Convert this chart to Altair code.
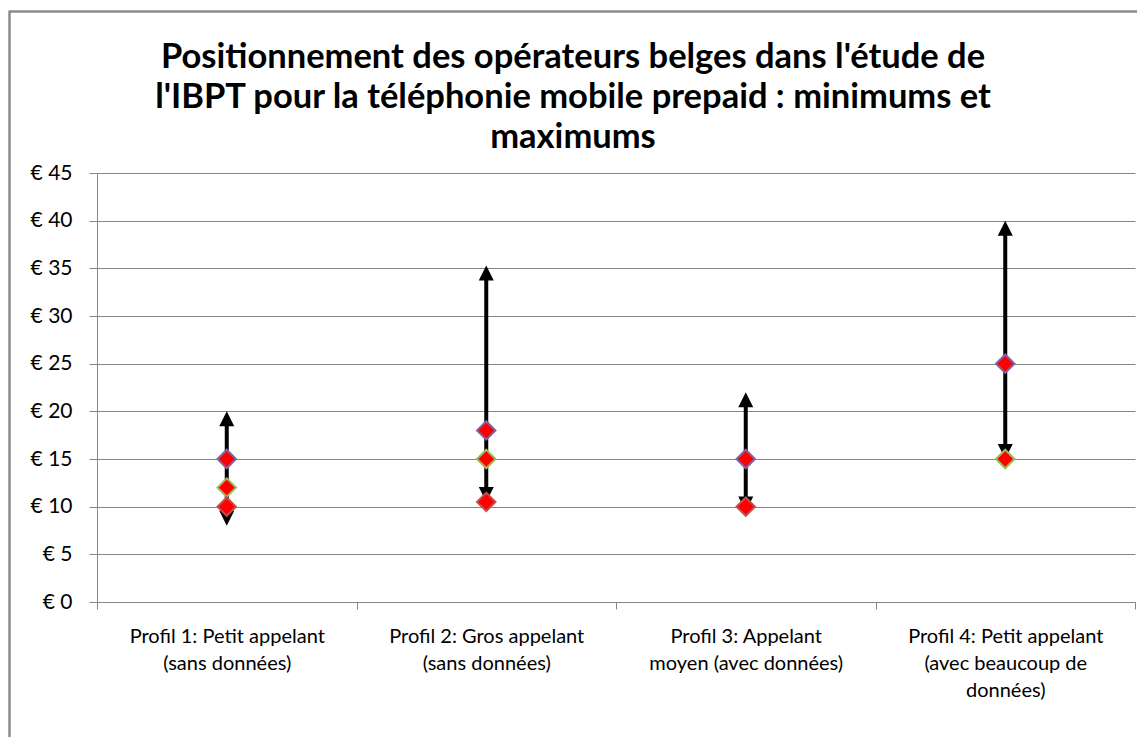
import altair as alt
import pandas as pd

# ---- data ----
categories = [
    "Profil 1: Petit appelant|(sans données)",
    "Profil 2: Gros appelant|(sans données)",
    "Profil 3: Appelant|moyen (avec données)",
    "Profil 4: Petit appelant|(avec beaucoup de|données)",
]
arrow_low = [8, 10.5, 9.5, 15]
arrow_high = [20, 35.3, 22, 40]

series_names = ["Série 1", "Série 2", "Série 3"]
series_1 = [15, 18, 15, 25]        # purple border
series_2 = [12, 15, None, 15]      # green border
series_3 = [10, 10.5, 10, None]    # red border
series_strokes = ["#8064A2", "#9BBB59", "#C0504D"]

y_ticks = [0, 5, 10, 15, 20, 25, 30, 35, 40, 45]

title_lines = [
    "Positionnement des opérateurs belges dans l'étude de",
    "l'IBPT pour la téléphonie mobile prepaid : minimums et",
    "maximums",
]

# ---- tables ----
arrows = pd.DataFrame({"cat": categories, "low": arrow_low, "high": arrow_high})
rows = []
for name, vals in zip(series_names, [series_1, series_2, series_3]):
    for c, v in zip(categories, vals):
        if v is not None:
            rows.append({"cat": c, "serie": name, "value": v})
points = pd.DataFrame(rows)

GRAY = "#868686"
FONT = "Lato"

x_enc = alt.X(
    "cat:N",
    sort=categories,
    scale=alt.Scale(type="band", paddingInner=0, paddingOuter=0),
    axis=alt.Axis(
        title=None,
        labelAngle=0,
        labelExpr="split(datum.label, '|')",
        tickBand="extent",
        grid=False,
        labelFont=FONT,
        labelFontSize=20,
        labelLineHeight=27,
        labelColor="#000000",
        labelLimit=400,
        labelPadding=17,
        labelBaseline="top",
        domainColor=GRAY,
        tickColor=GRAY,
        tickSize=7,
    ),
)

y_scale = alt.Scale(domain=[0, 45], nice=False)
y_axis = alt.Axis(
    title=None,
    values=y_ticks,
    labelExpr="'€ ' + datum.value",
    grid=True,
    gridColor=GRAY,
    gridWidth=1,
    domainColor=GRAY,
    tickColor=GRAY,
    tickSize=8,
    labelPadding=17,
    labelFont=FONT,
    labelFontSize=21,
    labelColor="#000000",
)

border = alt.Chart(arrows).mark_rect(
    fillOpacity=0, stroke=GRAY, strokeWidth=1.5
).encode(
    x=alt.value(-87.5), x2=alt.value(1200),
    y=alt.value(-161.5), y2=alt.value(800),
)

shaft = alt.Chart(arrows).mark_rule(
    color="black", strokeWidth=4, yOffset=8, y2Offset=-8
).encode(
    x=x_enc,
    y=alt.Y("high:Q", scale=y_scale, axis=y_axis),
    y2="low:Q",
)

head_up = alt.Chart(arrows).mark_point(
    shape="M0,0 L-1,2 L1,2 Z", size=225, filled=True, color="black", opacity=1
).encode(x=x_enc, y=alt.Y("high:Q", scale=y_scale, axis=y_axis))

head_down = alt.Chart(arrows).mark_point(
    shape="M0,0 L-1,-2 L1,-2 Z", size=225, filled=True, color="black", opacity=1
).encode(x=x_enc, y=alt.Y("low:Q", scale=y_scale, axis=y_axis))

diamonds = alt.Chart(points).mark_point(
    shape="diamond", size=340, filled=True, fill="#FF0000", strokeWidth=2, opacity=1
).encode(
    x=x_enc,
    y=alt.Y("value:Q", scale=y_scale, axis=y_axis),
    stroke=alt.Stroke(
        "serie:N",
        scale=alt.Scale(domain=series_names, range=series_strokes),
        legend=None,
    ),
    order=alt.Order("serie:N"),
)

chart = alt.layer(border, shaft, head_up, head_down, diamonds).properties(
    width=1038,
    height=429,
    autosize="none",
    padding={"left": 89, "top": 165, "right": 2, "bottom": 135},
    background="white",
    title=alt.TitleParams(
        text=title_lines,
        font=FONT,
        fontSize=34.5,
        fontWeight="bold",
        color="#000000",
        anchor="middle",
        frame="group",
        dx=-43,
        offset=-145,
        lineHeight=40,
    ),
).configure_view(stroke=None)

chart.save("out.html", embed_options={"renderer": "svg", "actions": False})
